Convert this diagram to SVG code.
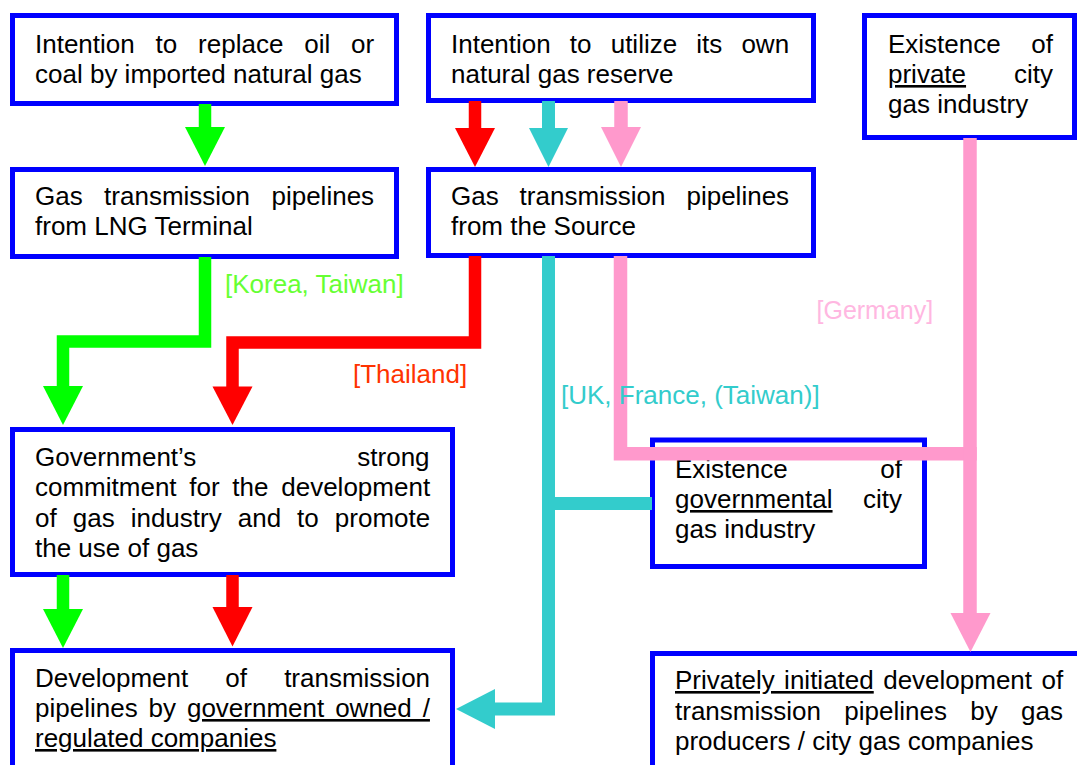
<svg xmlns="http://www.w3.org/2000/svg" width="1077" height="765" viewBox="0 0 1077 765">
<style>
.box{fill:#ffffff;stroke:#0000ff;stroke-width:5}
.t{font-family:"Liberation Sans",Arial,sans-serif;font-size:26px;fill:#000000}
.lbl{font-family:"Liberation Sans",Arial,sans-serif;font-size:26px}
.u{text-decoration:underline}
.ln{fill:none;stroke-linejoin:miter;stroke-linecap:butt}
.g{stroke:#00ff00;stroke-width:12.5}
.r{stroke:#ff0000;stroke-width:12.5}
.c{stroke:#33cccc;stroke-width:13}
.p{stroke:#ff99cc;stroke-width:13.5}
.gh{fill:#00ff00}
.rh{fill:#ff0000}
.ch{fill:#33cccc}
.ph{fill:#ff99cc}
</style>
<rect width="1077" height="765" fill="#ffffff"/>

<g id="n1">
<rect class="box" x="12.5" y="15.5" width="384" height="88"/>
<text class="t"><tspan x="35" y="53" word-spacing="13.6">Intention to replace oil or</tspan><tspan x="35" y="83">coal by imported natural gas</tspan></text>
</g>
<g id="n2">
<rect class="box" x="428.5" y="15.5" width="385" height="85"/>
<text class="t"><tspan x="451" y="53" word-spacing="11.9">Intention to utilize its own</tspan><tspan x="451" y="83">natural gas reserve</tspan></text>
</g>
<g id="n3">
<rect class="box" x="864.5" y="15.5" width="210" height="122"/>
<text class="t"><tspan x="888" y="53" word-spacing="23.4">Existence of</tspan><tspan x="888" y="83" word-spacing="40.7"><tspan class="u">private</tspan> city</tspan><tspan x="888" y="113">gas industry</tspan></text>
</g>
<g id="n4">
<rect class="box" x="12.5" y="169.5" width="384" height="87"/>
<text class="t"><tspan x="35" y="205" word-spacing="14.2">Gas transmission pipelines</tspan><tspan x="35" y="235">from LNG Terminal</tspan></text>
</g>
<g id="n5">
<rect class="box" x="428.5" y="169.5" width="385" height="86"/>
<text class="t"><tspan x="451" y="205" word-spacing="13.7">Gas transmission pipelines</tspan><tspan x="451" y="235">from the Source</tspan></text>
</g>
<g id="n6">
<rect class="box" x="12.5" y="429.5" width="440" height="145"/>
<text class="t"><tspan x="35" y="465.5" word-spacing="153.7">Government’s strong</tspan><tspan x="35" y="496" word-spacing="5.5">commitment for the development</tspan><tspan x="35" y="526.5" word-spacing="8.8">of gas industry and to promote</tspan><tspan x="35" y="557">the use of gas</tspan></text>
</g>
<g id="n7">
<rect class="box" x="12.5" y="650.5" width="440" height="140"/>
<text class="t"><tspan x="35" y="687" word-spacing="29.9">Development of transmission</tspan><tspan x="35" y="717" word-spacing="3.7">pipelines by <tspan class="u">government owned /</tspan></tspan><tspan x="35" y="747" class="u">regulated companies</tspan></text>
</g>
<g id="n8">
<rect class="box" x="652.5" y="440" width="272" height="126.5"/>
<text class="t"><tspan x="675" y="478" word-spacing="85.4">Existence of</tspan><tspan x="675" y="508" word-spacing="23.3"><tspan class="u">governmental</tspan> city</tspan><tspan x="675" y="538">gas industry</tspan></text>
</g>
<g id="n9">
<rect class="box" x="652.5" y="653.5" width="440" height="140"/>
<text class="t"><tspan x="675" y="689" word-spacing="2.2"><tspan class="u">Privately initiated</tspan> development of</tspan><tspan x="675" y="720" word-spacing="16.1">transmission pipelines by gas</tspan><tspan x="675" y="750">producers / city gas companies</tspan></text>
</g>

<g id="connectors">
<path class="ln g" d="M205,104 V128"/>
<polygon class="gh" points="185,127 225,127 205,166"/>
<path class="ln r" d="M475,101 V129"/>
<polygon class="rh" points="455,128 495,128 475,167"/>
<path class="ln c" d="M548.5,101 V129"/>
<polygon class="ch" points="529,128 568,128 548.5,167"/>
<path class="ln p" d="M621,101 V128"/>
<polygon class="ph" points="601,127 641,127 621,167"/>

<path class="ln g" d="M205,257 V341.5 H63 V387"/>
<polygon class="gh" points="43,386 83,386 63,425"/>
<path class="ln r" d="M475,256 V342.5 H232.5 V388"/>
<polygon class="rh" points="212.5,386.5 252.5,386.5 232.5,425"/>

<path class="ln g" d="M63,575 V610"/>
<polygon class="gh" points="43,609 83,609 63,648"/>
<path class="ln r" d="M232.5,575 V608"/>
<polygon class="rh" points="212.5,607 252.5,607 232.5,646.5"/>

<path class="ln c" d="M548.5,256 V709 H494"/>
<path class="ln c" d="M548.5,503.5 H652"/>
<polygon class="ch" points="456,709 495,689 495,729"/>

<path class="ln p" d="M620.5,256 V453.7 H976.7"/>
<path class="ln p" d="M970,138 V614"/>
<polygon class="ph" points="950.5,613 990.5,613 970.5,652"/>
</g>

<g id="labels">
<text class="lbl" x="225" y="293" fill="#66ff33">[Korea, Taiwan]</text>
<text class="lbl" x="353" y="383" fill="#ff3300">[Thailand]</text>
<text class="lbl" x="561" y="404" fill="#33cccc">[UK, France, (Taiwan)]</text>
<text class="lbl" x="816.5" y="319" fill="#ffb7e1" style="font-size:25px">[Germany]</text>
</g>
</svg>
